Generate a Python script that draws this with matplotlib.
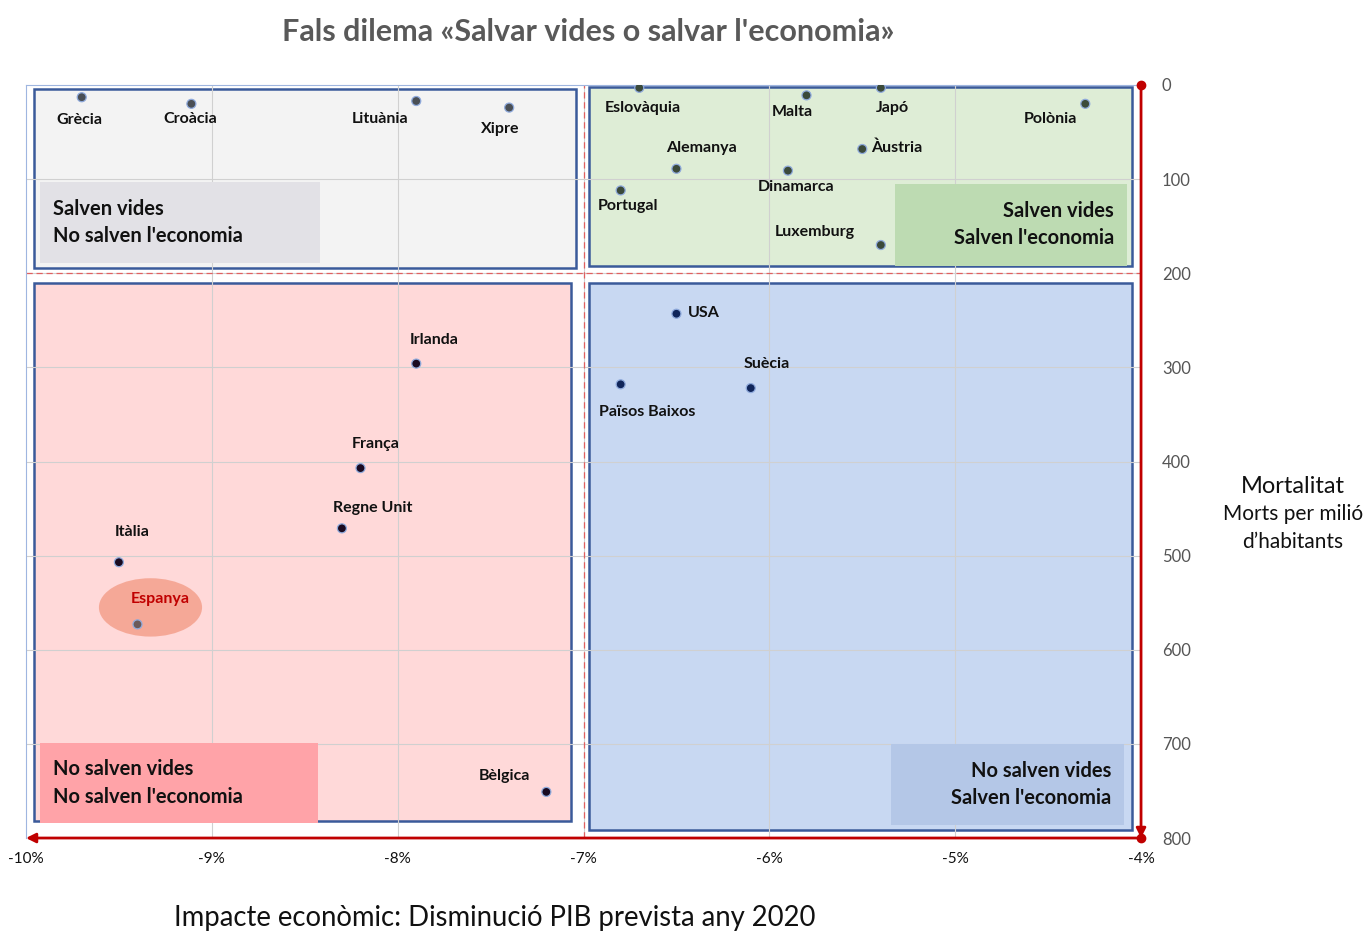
import matplotlib.pyplot as plt
from matplotlib.patches import Rectangle, Ellipse

plt.rcParams['font.family'] = ['Lato', 'DejaVu Sans']

# Dades: disminució del PIB (%) i morts per milió d'habitants
countries = ['Grècia', 'Croàcia', 'Lituània', 'Xipre', 'Eslovàquia', 'Malta', 'Japó',
             'Polònia', 'Alemanya', 'Àustria', 'Dinamarca', 'Portugal', 'Luxemburg',
             'USA', 'Suècia', 'Països Baixos', 'Irlanda', 'França', 'Regne Unit',
             'Itàlia', 'Espanya', 'Bèlgica']
gdp = [-9.70, -9.11, -7.90, -7.40, -6.70, -5.80, -5.40,
       -4.30, -6.50, -5.50, -5.90, -6.80, -5.40,
       -6.50, -6.10, -6.80, -7.90, -8.20, -8.30,
       -9.50, -9.40, -7.20]
deaths = [13, 20, 17, 24, 3, 11, 3,
          20, 89, 68, 91, 112, 170,
          243, 322, 318, 296, 407, 471,
          507, 573, 751]

x_ticks = [-10, -9, -8, -7, -6, -5, -4]
x_ticklabels = ['-10%', '-9%', '-8%', '-7%', '-6%', '-5%', '-4%']
y_ticks = [0, 100, 200, 300, 400, 500, 600, 700, 800]

# desplaçaments de les etiquetes (píxels) i colors dels punts
label_off = [(-2, -23), (-1, -15), (-36, -18), (-9, -21), (4, -20), (-14, -17), (12, -20),
             (-35, -15), (25, 21), (34, 1), (8, -16), (7, -16), (-66, 13),
             (27, 1), (16, 24), (27, -28), (18, 24), (15, 24), (31, 20),
             (13, 30), (23, 25), (-42, 16)]
point_col = ['#4a4f55'] * 4 + ['#3b4a3a'] * 9 + ['#10255a'] * 3 + ['#1a0a20'] * 3 + \
            ['#1a0a20', '#6b5a5a', '#1a0a20']

fig = plt.figure(figsize=(13.67, 9.33), dpi=100)
ax = fig.add_axes([0.019, 0.1018, 0.8157, 0.8071])
ax.set_xlim(-10, -4)
ax.set_ylim(800, 0)

# quadrants
quads = [
    (-9.957, 4, -7.038, 194.5, '#f3f3f3'),
    (-6.973, 2, -4.048, 192, '#deedd6'),
    (-9.957, 210, -7.065, 782, '#ffd9d9'),
    (-6.973, 210, -4.048, 791, '#c8d8f2'),
]
for x0, y0, x1, y1, c in quads:
    ax.add_patch(Rectangle((x0, y0), x1 - x0, y1 - y0, facecolor=c,
                           edgecolor='#3a5a9a', lw=1.8, zorder=1))

for xt in x_ticks[1:-1]:
    ax.axvline(xt, color='#d0d0d0', lw=0.8, zorder=1.5)
for yt in y_ticks[1:-1]:
    ax.axhline(yt, color='#d0d0d0', lw=0.8, zorder=1.5)
ax.axvline(-7.0, color='#e06060', lw=0.9, ls=(0, (5, 3)), zorder=1.6)
ax.axhline(200, color='#e06060', lw=0.9, ls=(0, (5, 3)), zorder=1.6)

# caixes amb etiquetes de quadrant
boxes = [
    (-9.925, 103, -8.42, 189, '#e2e1e6', 'Salven vides\nNo salven l\'economia', 'left'),
    (-5.325, 105, -4.075, 192, '#bddbb2', 'Salven vides\nSalven l\'economia', 'right'),
    (-9.925, 699, -8.43, 784, '#ffa3a8', 'No salven vides\nNo salven l\'economia', 'left'),
    (-5.345, 700, -4.09, 786, '#b4c7e7', 'No salven vides\nSalven l\'economia', 'right'),
]
for x0, y0, x1, y1, c, txt, ha in boxes:
    ax.add_patch(Rectangle((x0, y0), x1 - x0, y1 - y0, facecolor=c, edgecolor='none', zorder=3))
    tx = x0 + 0.07 if ha == 'left' else x1 - 0.07
    ax.text(tx, (y0 + y1) / 2, txt, ha=ha, va='center', fontsize=14.5, fontweight='bold',
            linespacing=1.45, color='#111111', zorder=4)

ax.add_patch(Ellipse((-9.33, 555), 0.555, 62, facecolor='#f4a08c', alpha=0.85,
                     edgecolor='none', zorder=3))

ax.scatter(gdp, deaths, s=42, c=point_col, edgecolors='#8faadc', linewidths=0.9, zorder=5)
for name, xv, yv, (dx, dy) in zip(countries, gdp, deaths, label_off):
    ax.annotate(name, (xv, yv), xytext=(dx, dy), textcoords='offset pixels',
                ha='center', va='center', fontsize=11.5, fontweight='bold',
                color='#c00000' if name == 'Espanya' else '#111111', zorder=6)

# eixos vermells amb fletxes
ax.annotate('', xy=(-4, 800), xytext=(-4, 0),
            arrowprops=dict(arrowstyle='-|>', color='#c00000', lw=2, mutation_scale=14,
                            shrinkA=0, shrinkB=0), annotation_clip=False, zorder=7)
ax.annotate('', xy=(-10, 800), xytext=(-4, 800),
            arrowprops=dict(arrowstyle='-|>', color='#c00000', lw=2, mutation_scale=14,
                            shrinkA=0, shrinkB=0), annotation_clip=False, zorder=7)
ax.plot([-4, -4], [0, 800], 'o', color='#c00000', ms=6, clip_on=False, zorder=8)

for s in ax.spines.values():
    s.set_color('#9fb6e0')
    s.set_linewidth(0.8)
ax.spines['right'].set_visible(False)
ax.spines['bottom'].set_visible(False)

ax.set_xticks(x_ticks)
ax.set_xticklabels(x_ticklabels)
ax.set_yticks(y_ticks)
ax.yaxis.tick_right()
ax.tick_params(axis='both', length=0)
ax.tick_params(axis='x', pad=10, labelsize=11, labelcolor='#111111')
ax.tick_params(axis='y', pad=15, labelsize=12, labelcolor='#555555')

fig.text(0.43, 0.966, 'Fals dilema «Salvar vides o salvar l\'economia»', ha='center', va='center',
         fontsize=22, fontweight='bold', color='#595959')
fig.text(0.362, 0.016, 'Impacte econòmic: Disminució PIB prevista any 2020', ha='center',
         va='center', fontsize=19.8, color='#111111')
fig.text(0.946, 0.479, 'Mortalitat', ha='center', va='center', fontsize=17, color='#111111')
fig.text(0.946, 0.434, 'Morts per milió\nd\u2019habitants', ha='center', va='center',
         fontsize=15, linespacing=1.55, color='#111111')

fig.savefig('out.png', dpi=100)
